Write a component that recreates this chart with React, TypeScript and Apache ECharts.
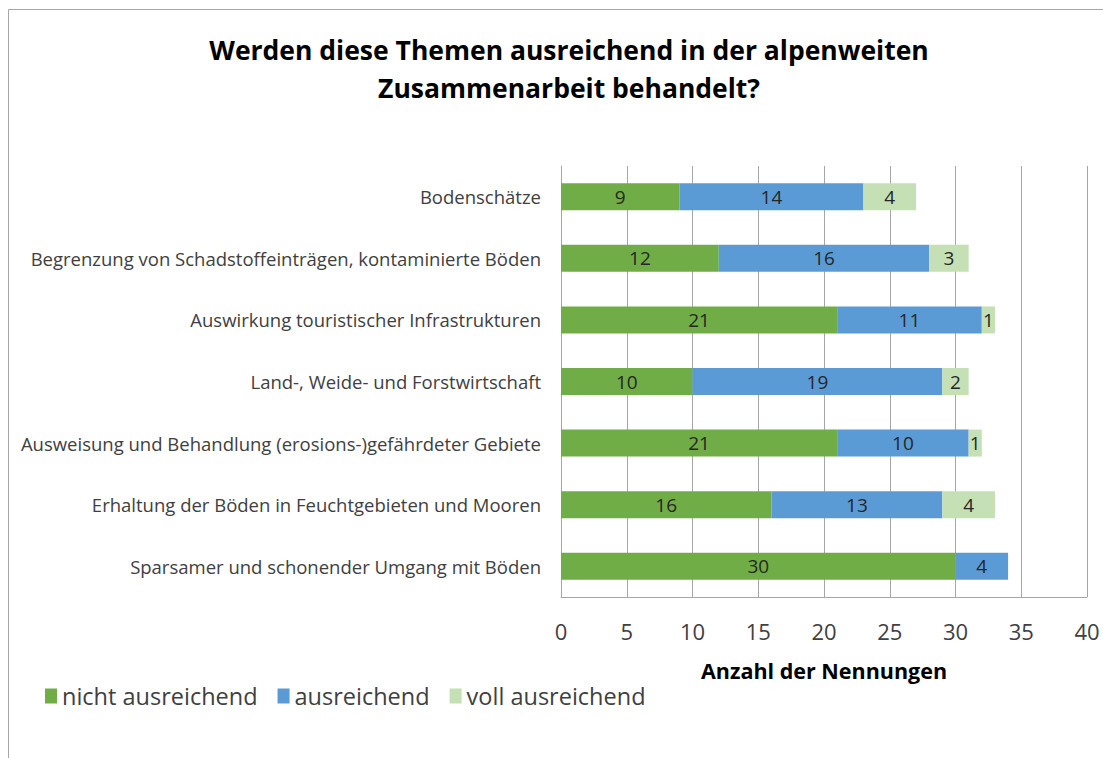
import React, { useEffect, useRef } from "react";
import * as echarts from "echarts";

const categories = [
  "Bodenschätze",
  "Begrenzung von Schadstoffeinträgen, kontaminierte Böden",
  "Auswirkung touristischer Infrastrukturen",
  "Land-, Weide- und Forstwirtschaft",
  "Ausweisung und Behandlung (erosions-)gefährdeter Gebiete",
  "Erhaltung der Böden in Feuchtgebieten und Mooren",
  "Sparsamer und schonender Umgang mit Böden",
];
const nichtAusreichend = [9, 12, 21, 10, 21, 16, 30];
const ausreichend = [14, 16, 11, 19, 10, 13, 4];
const vollAusreichend = [4, 3, 1, 2, 1, 4, 0];
const xTicks = [0, 5, 10, 15, 20, 25, 30, 35, 40];

const FONT = "'Open Sans', sans-serif";

export default function App() {
  const ref = useRef<HTMLDivElement>(null);
  useEffect(() => {
    if (!ref.current) return;
    const chart = echarts.init(ref.current, null, { renderer: "svg" });
    const label = {
      show: true,
      position: "inside",
      color: "#262626",
      fontSize: 19,
      fontFamily: FONT,
      formatter: (p: any) => (p.value ? String(p.value) : ""),
    };
    const mk = (name: string, data: number[], color: string) => ({
      name,
      type: "bar",
      stack: "total",
      data,
      barWidth: 27,
      itemStyle: { color },
      label,
    });
    chart.setOption({
      animation: false,
      textStyle: { fontFamily: FONT },
      title: {
        text: "Werden diese Themen ausreichend in der alpenweiten\nZusammenarbeit behandelt?",
        left: 564,
        textAlign: "center",
        top: 26,
        textStyle: {
          fontFamily: FONT,
          fontWeight: "bold",
          fontSize: 26.5,
          lineHeight: 38,
          color: "#000000",
        },
      },
      legend: {
        left: 40,
        top: 679,
        itemWidth: 12,
        itemHeight: 15,
        itemGap: 20,
        icon: "rect",
        textStyle: { fontFamily: FONT, fontSize: 23.5, color: "#404040" },
        data: ["nicht ausreichend", "ausreichend", "voll ausreichend"],
      },
      grid: { left: 561, top: 166, width: 526, height: 431 },
      xAxis: {
        type: "value",
        min: 0,
        max: 40,
        interval: 5,
        name: "Anzahl der Nennungen",
        nameLocation: "middle",
        nameGap: 62,
        nameTextStyle: { fontFamily: FONT, fontWeight: "bold", fontSize: 21.5, color: "#000000" },
        axisLine: { show: true, lineStyle: { color: "#A6A6A6" } },
        axisTick: { show: false },
        axisLabel: {
          margin: 23,
          fontSize: 22,
          color: "#404040",
          fontFamily: FONT,
          formatter: (v: number) => (xTicks.includes(v) ? String(v) : ""),
        },
        splitLine: { show: true, lineStyle: { color: "#A6A6A6" } },
      },
      yAxis: {
        type: "category",
        inverse: true,
        data: categories,
        axisLine: { show: true, lineStyle: { color: "#A6A6A6" } },
        axisTick: { show: false },
        axisLabel: { margin: 20, fontSize: 18.5, color: "#404040", fontFamily: FONT },
      },
      graphic: [
        {
          type: "rect",
          shape: { x: 8.5, y: 9.5, width: 1200, height: 1000 },
          style: { fill: "none", stroke: "#A6A6A6", lineWidth: 1 },
          silent: true,
        },
      ],
      series: [
        mk("nicht ausreichend", nichtAusreichend, "#70AD47"),
        mk("ausreichend", ausreichend, "#5B9BD5"),
        mk("voll ausreichend", vollAusreichend, "#C5E0B4"),
      ],
    });
    return () => chart.dispose();
  }, []);
  return (
    <div
      ref={ref}
      style={{ position: "absolute", left: 0, top: 0, width: 1103, height: 758, background: "#fff" }}
    />
  );
}
